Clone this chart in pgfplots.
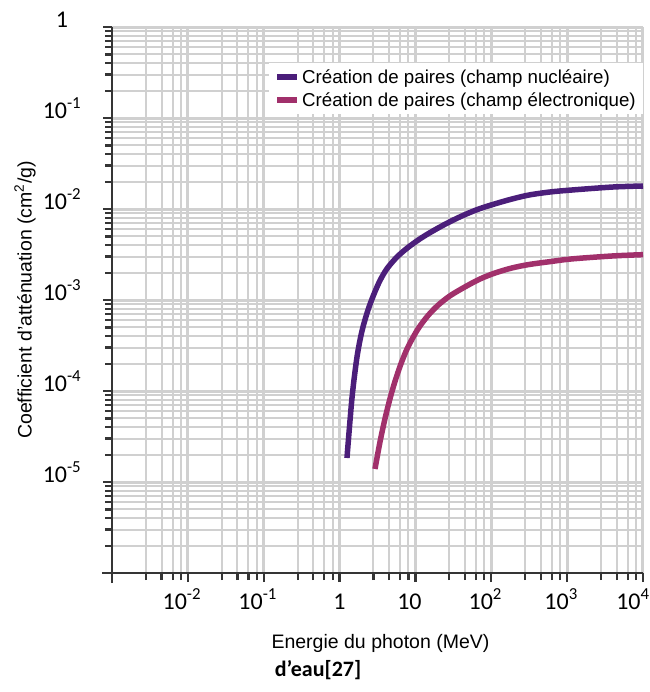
\documentclass[border=0pt]{standalone}
\usepackage{fontspec}
\setmainfont{Liberation Sans}
\newfontfamily\calib{Carlito}
\usepackage{pgfplots}
\pgfplotsset{compat=1.18}
\definecolor{nucl}{HTML}{4B1E7A}
\definecolor{elec}{HTML}{A1306B}
\definecolor{gridc}{HTML}{D0D0D0}
\definecolor{axc}{HTML}{353535}
\begin{document}
\begin{tikzpicture}
\begin{axis}[
  name=ax,
  scale only axis,
  width=531pt, height=546pt,
  xmode=log, ymode=log,
  xmin=1e-3, xmax=1e4, ymin=1e-6, ymax=1,
  axis x line*=bottom, axis y line*=left,
  axis line style={axc, line width=2.4pt, shorten <=-10pt},
  xtick={1e-2,1e-1,1,10,100,1000,10000},
  xticklabels={10\textsuperscript{-2},10\textsuperscript{-1},\hspace*{12pt}1,10,10\textsuperscript{2},10\textsuperscript{3},10\textsuperscript{4}\hspace*{8pt}},
  ytick={1e-5,1e-4,1e-3,1e-2,1e-1,1},
  yticklabels={10\textsuperscript{-5},10\textsuperscript{-4},10\textsuperscript{-3},10\textsuperscript{-2},10\textsuperscript{-1},1},
  minor xtick={2.8e-3,4.5e-3,6.3e-3,8.1e-3,2.8e-2,4.5e-2,6.3e-2,8.1e-2,0.28,0.45,0.63,0.81,2.8,4.5,6.3,8.1,28,45,63,81,280,450,630,810,2800,4500,6300,8100},
  minor ytick={2e-6,3e-6,4e-6,5e-6,6e-6,7e-6,8e-6,9e-6,2e-5,3e-5,4e-5,5e-5,6e-5,7e-5,8e-5,9e-5,2e-4,3e-4,4e-4,5e-4,6e-4,7e-4,8e-4,9e-4,2e-3,3e-3,4e-3,5e-3,6e-3,7e-3,8e-3,9e-3,2e-2,3e-2,4e-2,5e-2,6e-2,7e-2,8e-2,9e-2,0.2,0.3,0.4,0.5,0.6,0.7,0.8,0.9},
  grid=both,
  major grid style={gridc, line width=3pt},
  minor grid style={gridc, line width=2pt},
  tick align=outside,
  major tick length=9pt, minor tick length=7pt,
  tick style={axc, line width=2.2pt},
  tick label style={font=\calib\fontsize{24}{27}\selectfont},
  xticklabel style={anchor=base, xshift=-6pt, yshift=-27pt},
  yticklabel style={anchor=base, xshift=-41pt},
  xlabel={Energie du photon (MeV)},
  ylabel={Coefficient d'atténuation (cm\textsuperscript{2}/g)},
  every axis x label/.style={at={([xshift=3pt,yshift=-70pt]axis description cs:0.5,0)}, anchor=center, font=\fontsize{19.5}{22}\selectfont},
  every axis y label/.style={at={([xshift=-87pt]axis description cs:0,0.5)}, rotate=90, anchor=center, font=\fontsize{19.5}{22}\selectfont},
  legend style={at={(rel axis cs:1,0.934)}, anchor=north east, draw=none, fill=white,
    font=\fontsize{18.7}{21}\selectfont, inner xsep=5pt, inner ysep=4pt, row sep=4pt},
  legend cell align=left,
  legend image code/.code={\draw[#1, line width=6pt] (0pt,0pt) -- (20pt,0pt);},
  clip=false,
]
\addplot[nucl, line width=5.5pt, smooth] coordinates {
 (1.252,1.836e-5) (1.458,8.38e-5) (1.697,2.36e-4) (1.975,4.56e-4) (2.370,7.76e-4)
 (2.844,1.164e-3) (3.411,1.637e-3) (4.220,2.213e-3) (5.715,2.97e-3) (7.98,3.78e-3)
 (11.49,4.70e-3) (16.04,5.58e-3) (25.3,6.89e-3) (39.9,8.30e-3) (66.8,9.93e-3)
 (111.9,1.14e-2) (187.5,1.288e-2) (314,1.425e-2) (594,1.538e-2) (1159,1.618e-2)
 (4022,1.745e-2) (10000,1.79e-2)
};
\addlegendentry{Création de paires (champ nucléaire)}
\addplot[elec, line width=5.5pt, smooth] coordinates {
 (2.930,1.39e-5) (3.411,2.754e-5) (3.970,4.96e-5) (4.620,8.23e-5) (5.378,1.275e-4)
 (6.452,1.995e-4) (7.98,3.05e-4) (10.81,4.81e-4) (14.64,6.74e-4) (19.83,8.75e-4)
 (28.56,1.112e-3) (45.0,1.393e-3) (71.0,1.702e-3) (111.9,1.98e-3) (187.5,2.25e-3)
 (314,2.455e-3) (594,2.64e-3) (1159,2.83e-3) (4022,3.05e-3) (10000,3.15e-3)
};
\addlegendentry{Création de paires (champ électronique)}
\end{axis}
\node[anchor=base, font=\calib\bfseries\fontsize{22}{26}\selectfont] at ([xshift=206pt,yshift=-103pt]ax.south west) {d’eau[27]};
\pgfresetboundingbox
\path[use as bounding box] ([xshift=-112pt,yshift=-119pt]ax.south west) rectangle ([xshift=7pt,yshift=27pt]ax.north east);
\end{tikzpicture}
\end{document}
